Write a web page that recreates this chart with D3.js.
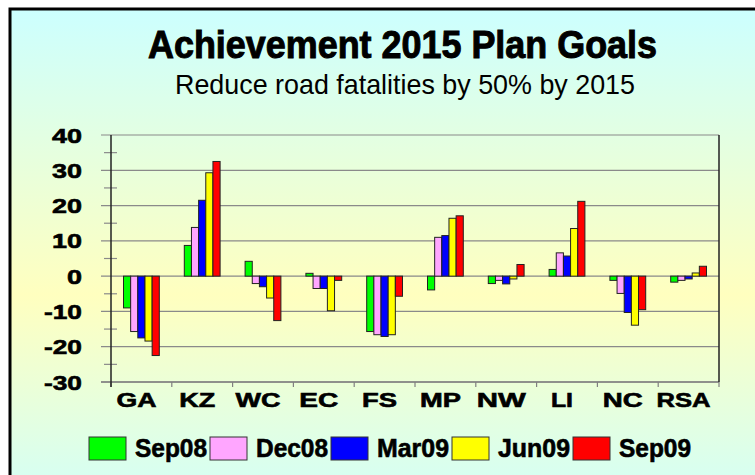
<!DOCTYPE html>
<html>
<head>
<meta charset="utf-8">
<script src="https://cdn.jsdelivr.net/npm/d3@7"></script>
<style>
  body { margin: 0; background: #fff; }
  text { font-family: "Liberation Sans", Arial, sans-serif; }
</style>
</head>
<body>
<svg width="755" height="475"></svg>
<script>
// regions and quarterly series (% change)
const regions = ['GA', 'KZ', 'WC', 'EC', 'FS', 'MP', 'NW', 'LI', 'NC', 'RSA'];
const seriesNames = ['Sep08', 'Dec08', 'Mar09', 'Jun09', 'Sep09'];
const sep08 = [-9.0, 8.7, 4.2, 0.8, -15.7, -3.9, -2.1, 1.9, -1.2, -1.7];
const dec08 = [-15.7, 13.8, -2.1, -3.5, -16.6, 11.0, -1.2, 6.6, -4.9, -1.2];
const mar09 = [-17.5, 21.5, -3.0, -3.5, -17.1, 11.5, -2.2, 5.7, -10.3, -0.8];
const jun09 = [-18.4, 29.3, -6.2, -9.8, -16.6, 16.4, -0.8, 13.5, -13.9, 0.9];
const sep09 = [-22.5, 32.5, -12.6, -1.2, -5.7, 17.1, 3.3, 21.2, -9.5, 2.8];
const colors = ['#00ff00', '#ffa6ff', '#0000ff', '#ffff00', '#ff0000'];
const yTicks = [-30, -20, -10, 0, 10, 20, 30, 40];

const allSeries = [sep08, dec08, mar09, jun09, sep09];

const svg = d3.select('svg');

// background gradient
const defs = svg.append('defs');
const grad = defs.append('linearGradient')
    .attr('id', 'bg')
    .attr('x1', 0).attr('y1', 0).attr('x2', 0).attr('y2', 1);
grad.append('stop').attr('offset', '0%').attr('stop-color', '#ccffff');
grad.append('stop').attr('offset', '55%').attr('stop-color', '#ffffbf');
grad.append('stop').attr('offset', '100%').attr('stop-color', '#ccffff');

svg.append('rect')
    .attr('x', 10).attr('y', 9)
    .attr('width', 800).attr('height', 520)
    .attr('fill', 'url(#bg)')
    .attr('stroke', '#000')
    .attr('stroke-width', 3);

// titles
svg.append('text')
    .attr('x', 148).attr('y', 58)
    .attr('font-size', 39)
    .attr('font-weight', 'bold')
    .attr('stroke', '#000').attr('stroke-width', 1)
    .attr('textLength', 509)
    .attr('lengthAdjust', 'spacingAndGlyphs')
    .text('Achievement 2015 Plan Goals');

svg.append('text')
    .attr('x', 175).attr('y', 94)
    .attr('font-size', 28)
    .attr('textLength', 460)
    .attr('lengthAdjust', 'spacingAndGlyphs')
    .text('Reduce road fatalities by 50% by 2015');

// scales
const x0 = d3.scaleBand()
    .domain(regions)
    .range([111, 719]);

const x1 = d3.scaleBand()
    .domain(seriesNames)
    .range([12.5, x0.bandwidth() - 12.5]);

const y = d3.scaleLinear()
    .domain([-30, 40])
    .range([382, 135]);

// gridlines
svg.append('g')
    .selectAll('line')
    .data(yTicks)
    .enter()
    .append('line')
    .attr('x1', 101).attr('x2', 719)
    .attr('y1', d => y(d)).attr('y2', d => y(d))
    .attr('stroke', '#8a8a8a')
    .attr('stroke-width', 1.2);

// minor ticks on y axis
svg.append('g')
    .selectAll('line')
    .data(d3.range(-25, 40, 10))
    .enter()
    .append('line')
    .attr('x1', 104).attr('x2', 117)
    .attr('y1', d => y(d)).attr('y2', d => y(d))
    .attr('stroke', '#8a8a8a')
    .attr('stroke-width', 1.2);

// y tick labels (wide, heavy glyphs)
svg.append('g')
    .selectAll('text')
    .data(yTicks)
    .enter()
    .append('text')
    .attr('x', 82)
    .attr('y', d => y(d) + 7.5)
    .attr('text-anchor', 'end')
    .attr('font-size', 21)
    .attr('font-weight', 'bold')
    .attr('stroke', '#000').attr('stroke-width', 0.6)
    .attr('textLength', d => String(Math.abs(d)).length * 15 + (d < 0 ? 8 : 0))
    .attr('lengthAdjust', 'spacingAndGlyphs')
    .text(d => d);

// bars
const groups = svg.append('g')
    .selectAll('g')
    .data(regions)
    .enter()
    .append('g')
    .attr('transform', d => `translate(${x0(d)},0)`);

groups.selectAll('rect')
    .data((d, i) => seriesNames.map((s, j) => ({ s, v: allSeries[j][i], c: colors[j] })))
    .enter()
    .append('rect')
    .attr('x', d => x1(d.s))
    .attr('y', d => y(Math.max(0, d.v)))
    .attr('width', x1.bandwidth())
    .attr('height', d => Math.abs(y(d.v) - y(0)))
    .attr('fill', d => d.c)
    .attr('stroke', '#222')
    .attr('stroke-width', 1);

// x axis line and ticks
svg.append('line')
    .attr('x1', 101).attr('x2', 719)
    .attr('y1', y(-30)).attr('y2', y(-30))
    .attr('stroke', '#808080').attr('stroke-width', 1.5);

svg.append('g')
    .selectAll('line')
    .data(regions.concat(['end']))
    .enter()
    .append('line')
    .attr('x1', (d, i) => i < regions.length ? x0(d) : 719)
    .attr('x2', (d, i) => i < regions.length ? x0(d) : 719)
    .attr('y1', y(-30)).attr('y2', y(-30) + 5)
    .attr('stroke', '#808080').attr('stroke-width', 1.2);

// y axis and right border
svg.append('line')
    .attr('x1', 111).attr('x2', 111)
    .attr('y1', 135).attr('y2', 387)
    .attr('stroke', '#222').attr('stroke-width', 1.5);

svg.append('line')
    .attr('x1', 719).attr('x2', 719)
    .attr('y1', 135).attr('y2', 382)
    .attr('stroke', '#222').attr('stroke-width', 1.5);

// x labels
const labelWidths = { GA: 40, KZ: 36, WC: 45, EC: 39, FS: 35, MP: 41, NW: 49, LI: 22, NC: 40, RSA: 54 };
svg.append('g')
    .selectAll('text')
    .data(regions)
    .enter()
    .append('text')
    .attr('x', d => x0(d) + x0.bandwidth() / 2 - 5 - labelWidths[d] / 2)
    .attr('y', 407)
    .attr('font-size', 20)
    .attr('font-weight', 'bold')
    .attr('stroke', '#000').attr('stroke-width', 0.6)
    .attr('textLength', d => labelWidths[d])
    .attr('lengthAdjust', 'spacingAndGlyphs')
    .text(d => d);

// legend
const legend = svg.append('g')
    .selectAll('g')
    .data(seriesNames)
    .enter()
    .append('g')
    .attr('transform', (d, i) => `translate(${89 + i * 121},437)`);

legend.append('rect')
    .attr('width', 37).attr('height', 23)
    .attr('fill', (d, i) => colors[i])
    .attr('stroke', '#333').attr('stroke-width', 1);

legend.append('text')
    .attr('x', 46).attr('y', 20)
    .attr('font-size', 25)
    .attr('font-weight', 'bold')
    .attr('stroke', '#000').attr('stroke-width', 0.6)
    .attr('textLength', 72)
    .attr('lengthAdjust', 'spacingAndGlyphs')
    .text(d => d);
</script>
</body>
</html>
